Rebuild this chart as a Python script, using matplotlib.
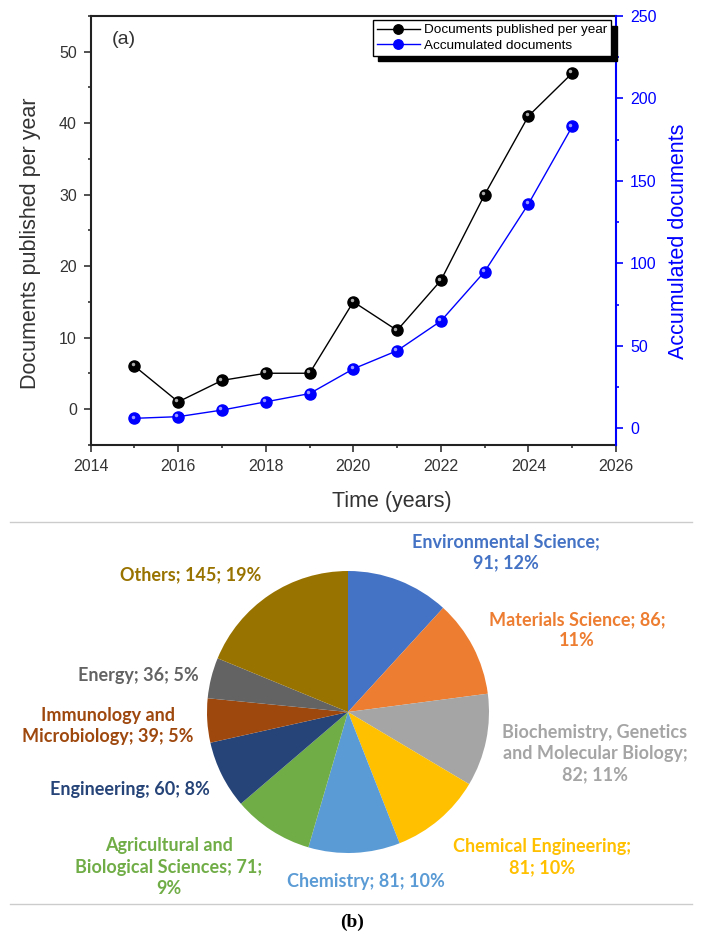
import matplotlib
matplotlib.use("Agg")
import matplotlib.pyplot as plt
import matplotlib.transforms as mtransforms
from matplotlib.ticker import MultipleLocator

# --- data (a): documents per year ---
years = [2015, 2016, 2017, 2018, 2019, 2020, 2021, 2022, 2023, 2024, 2025]
per_year = [6, 1, 4, 5, 5, 15, 11, 18, 30, 41, 47]
accumulated = [6, 7, 11, 16, 21, 36, 47, 65, 95, 136, 183]

# --- data (b): subject areas ---
areas = ["Environmental Science;\n91; 12%", "Materials Science; 86;\n11%",
         "Biochemistry, Genetics\nand Molecular Biology;\n82; 11%",
         "Chemical Engineering;\n81; 10%", "Chemistry; 81; 10%",
         "Agricultural and\nBiological Sciences; 71;\n9%", "Engineering; 60; 8%",
         "Immunology and\nMicrobiology; 39; 5%", "Energy; 36; 5%", "Others; 145; 19%"]
area_counts = [91, 86, 82, 81, 81, 71, 60, 39, 36, 145]
area_colors = ["#4472C4", "#ED7D31", "#A5A5A5", "#FFC000", "#5B9BD5",
               "#70AD47", "#264478", "#9E480E", "#636363", "#997300"]
# label centres in pixels (layout only)
label_pos = [(506, 552), (577, 630), (595, 754), (542, 857), (366, 882),
             (169, 867), (130, 790), (108, 726), (138, 675), (191, 575)]

W, H = 702, 939
fig = plt.figure(figsize=(W / 100, H / 100), dpi=100)
plt.rcParams['font.family'] = ['Liberation Sans', 'DejaVu Sans']

# ---------------- panel (a) ----------------
ax = fig.add_axes([90.7 / W, 1 - 444.7 / H, (616 - 90.7) / W, (444.7 - 16) / H])
ax2 = ax.twinx()

ax.plot(years, per_year, '-', color='black', lw=1, marker='o', ms=8,
        mfc='black', mec='black', label='Documents published per year', zorder=3)
ax2.plot(years, accumulated, '-', color='blue', lw=1, marker='o', ms=8,
         mfc='blue', mec='blue', label='Accumulated documents', zorder=3)
# little highlight on the spheres
hl = mtransforms.offset_copy(ax.transData, fig=fig, x=-1.3, y=1.3, units='points')
ax.plot(years, per_year, 'o', ms=2.5, color='#aaaaaa', mec='none', transform=hl, zorder=4)
hl2 = mtransforms.offset_copy(ax2.transData, fig=fig, x=-1.3, y=1.3, units='points')
ax2.plot(years, accumulated, 'o', ms=2.5, color='#9a9aff', mec='none', transform=hl2, zorder=4)

ax.set_xlim(2014, 2026)
ax.set_ylim(-5, 55)
ax2.set_ylim(-10, 250)
ax.xaxis.set_major_locator(MultipleLocator(2))
ax.xaxis.set_minor_locator(MultipleLocator(1))
ax.yaxis.set_major_locator(MultipleLocator(10))
ax.yaxis.set_minor_locator(MultipleLocator(5))
ax2.yaxis.set_major_locator(MultipleLocator(50))
ax2.yaxis.set_minor_locator(MultipleLocator(25))

tc = '#333333'
ax.tick_params(which='major', direction='out', length=5, width=1.2, pad=5,
               labelsize=11.5, colors=tc)
ax.tick_params(which='minor', direction='out', length=2.5, width=1.2, colors=tc)
ax.tick_params(right=False, top=False, which='both')
ax2.tick_params(which='major', direction='out', length=5, width=1.2, pad=5,
                labelsize=11.5, colors='blue')
ax2.tick_params(which='minor', direction='out', length=2.5, width=1.2, colors='blue')
for s in ['left', 'bottom', 'top']:
    ax.spines[s].set_linewidth(1.5)
    ax.spines[s].set_color('#222222')
ax.spines['right'].set_visible(False)
for s in ['left', 'bottom', 'top']:
    ax2.spines[s].set_visible(False)
ax2.spines['right'].set_color('blue')
ax2.spines['right'].set_linewidth(1.5)

fig.text(30.5 / W, 1 - 243 / H, 'Documents published per year', rotation=90,
         ha='center', va='center', fontsize=15.5, color=tc)
fig.text(679 / W, 1 - 241 / H, 'Accumulated documents', rotation=90,
         ha='center', va='center', fontsize=15.5, color='blue')
fig.text(392 / W, 1 - 502 / H, 'Time (years)', ha='center', va='center',
         fontsize=15.5, color=tc)
fig.text(124 / W, 1 - 40 / H, '(a)', ha='center', va='center', fontsize=14, color=tc)

h1, l1 = ax.get_legend_handles_labels()
h2, l2 = ax2.get_legend_handles_labels()
leg = ax2.legend(h1 + h2, l1 + l2, loc='upper right',
                 bbox_to_anchor=(611 / W, 1 - 20 / H), bbox_transform=fig.transFigure,
                 borderaxespad=0, fontsize=9.7, frameon=True, fancybox=False,
                 shadow={'ox': 4, 'oy': -4, 'color': 'black', 'alpha': 1},
                 handlelength=3.2, handletextpad=0.3, labelspacing=0.2,
                 borderpad=0.3, markerscale=0.85)
leg.get_frame().set_edgecolor('black')
leg.get_frame().set_linewidth(1)

# separators
for yy in (522, 904):
    fig.add_artist(plt.Line2D([10 / W, 692 / W], [1 - yy / H, 1 - yy / H],
                              transform=fig.transFigure, color='#cccccc', lw=1))

# ---------------- panel (b) ----------------
r = 141
axp = fig.add_axes([(348 - r) / W, 1 - (712 + r) / H, 2 * r / W, 2 * r / H])
axp.pie(area_counts, colors=area_colors, startangle=90, counterclock=False,
        wedgeprops={'linewidth': 0})
axp.set_xlim(-1, 1)
axp.set_ylim(-1, 1)
axp.axis('off')

for lab, (px, py), col in zip(areas, label_pos, area_colors):
    fig.text(px / W, 1 - py / H, lab, ha='center', va='center', multialignment='center',
             fontsize=13, color=col, fontweight='bold', linespacing=1.3,
             family=['Lato', 'DejaVu Sans'])

fig.text(352 / W, 1 - 922 / H, '(b)', ha='center', va='center', fontsize=14,
         fontweight='bold', family=['Liberation Serif', 'DejaVu Serif'], color='black')

fig.savefig('out.png', dpi=100)
